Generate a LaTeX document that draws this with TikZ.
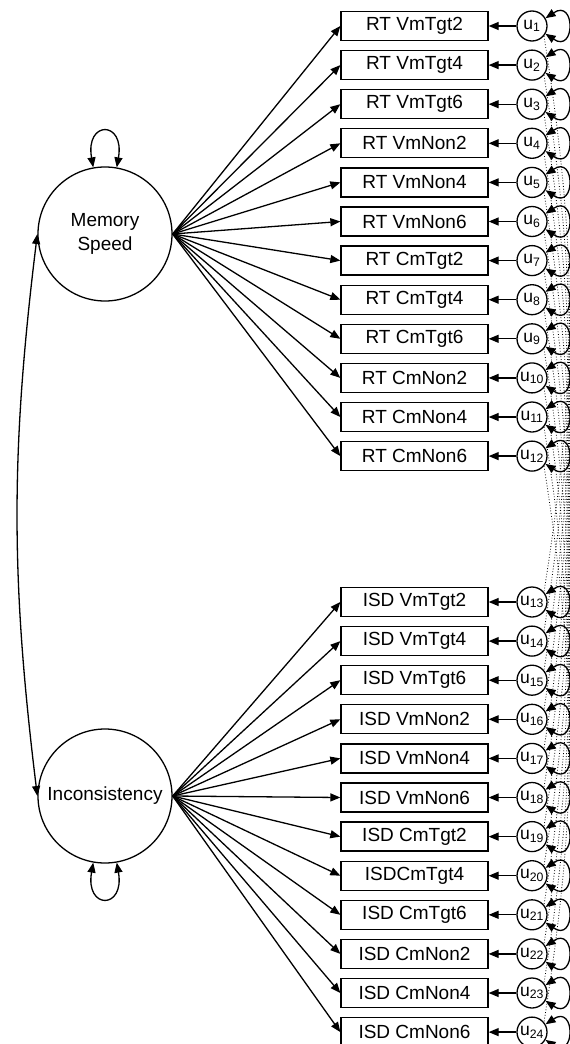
\documentclass[tikz,border=0pt]{standalone}
\usepackage{fontspec}
\setmainfont{Liberation Sans}
\usetikzlibrary{arrows.meta}
\begin{document}
\begin{tikzpicture}[x=1pt,y=1pt,line width=1.3pt,
  obs/.style={draw, rectangle, minimum width=147pt, minimum height=29pt, inner sep=0pt,
    font=\fontsize{19}{22}\selectfont},
  err/.style={draw, circle, minimum size=30pt, inner sep=0pt,
    font=\fontsize{17.5}{19}\selectfont},
  lat/.style={draw, circle, minimum size=134pt, inner sep=0pt, align=center,
    font=\fontsize{19}{23.5}\selectfont},
  load/.style={-{Triangle[length=10pt,width=8pt]}},
  dbl/.style={{Triangle[length=10pt,width=8pt]}-{Triangle[length=10pt,width=8pt]}},
  corr/.style={dotted, line width=0.8pt},
]
\useasboundingbox (0,0) rectangle (570,-1044);

% latent factors
\node[lat] (ms)  at (105,-234) {Memory\\Speed};
\node[lat] (inc) at (105,-796) {Inconsistency};

% RT indicators with their residuals
\foreach \lab [count=\i] in {RT VmTgt2,RT VmTgt4,RT VmTgt6,RT VmNon2,RT VmNon4,RT VmNon6,
                             RT CmTgt2,RT CmTgt4,RT CmTgt6,RT CmNon2,RT CmNon4,RT CmNon6} {
  \pgfmathsetmacro\yy{-26-39.1*(\i-1)}
  \node[obs] (rt\i) at (414.5,\yy) {\lab};
  \node[err] (u\i) at (532,\yy) {u\textsubscript{\i}};
}

% ISD indicators with their residuals
\foreach \lab [count=\i] in {ISD VmTgt2,ISD VmTgt4,ISD VmTgt6,ISD VmNon2,ISD VmNon4,ISD VmNon6,
                             ISD CmTgt2,ISDCmTgt4,ISD CmTgt6,ISD CmNon2,ISD CmNon4,ISD CmNon6} {
  \pgfmathsetmacro\yy{-602-39.1*(\i-1)}
  \pgfmathtruncatemacro\k{\i+12}
  \node[obs] (isd\i) at (414.5,\yy) {\lab};
  \node[err] (u\k) at (532,\yy) {u\textsubscript{\k}};
}

% loadings, residual paths, residual variances, residual covariances
\foreach \i in {1,...,12} {
  \pgfmathtruncatemacro\k{\i+12}
  \draw[load] (ms.east) -- (rt\i.west);
  \draw[load] (inc.east) -- (isd\i.west);
  \draw[load] (u\i.west) -- (rt\i.east);
  \draw[load] (u\k.west) -- (isd\i.east);
  \draw[dbl] (u\i.30) .. controls +(30,20) and +(30,-20) .. (u\i.-30);
  \draw[dbl] (u\k.30) .. controls +(30,20) and +(30,-20) .. (u\k.-30);
  \draw[corr] (u\i.-40) to[bend left=9] (u\k.40);
}

% factor variances and factor covariance
\draw[dbl] (ms.100) .. controls +(100:48) and +(80:48) .. (ms.80);
\draw[dbl] (inc.-100) .. controls +(-100:48) and +(-80:48) .. (inc.-80);
\draw[dbl] (ms.west) to[bend right=7] (inc.west);
\end{tikzpicture}
\end{document}
